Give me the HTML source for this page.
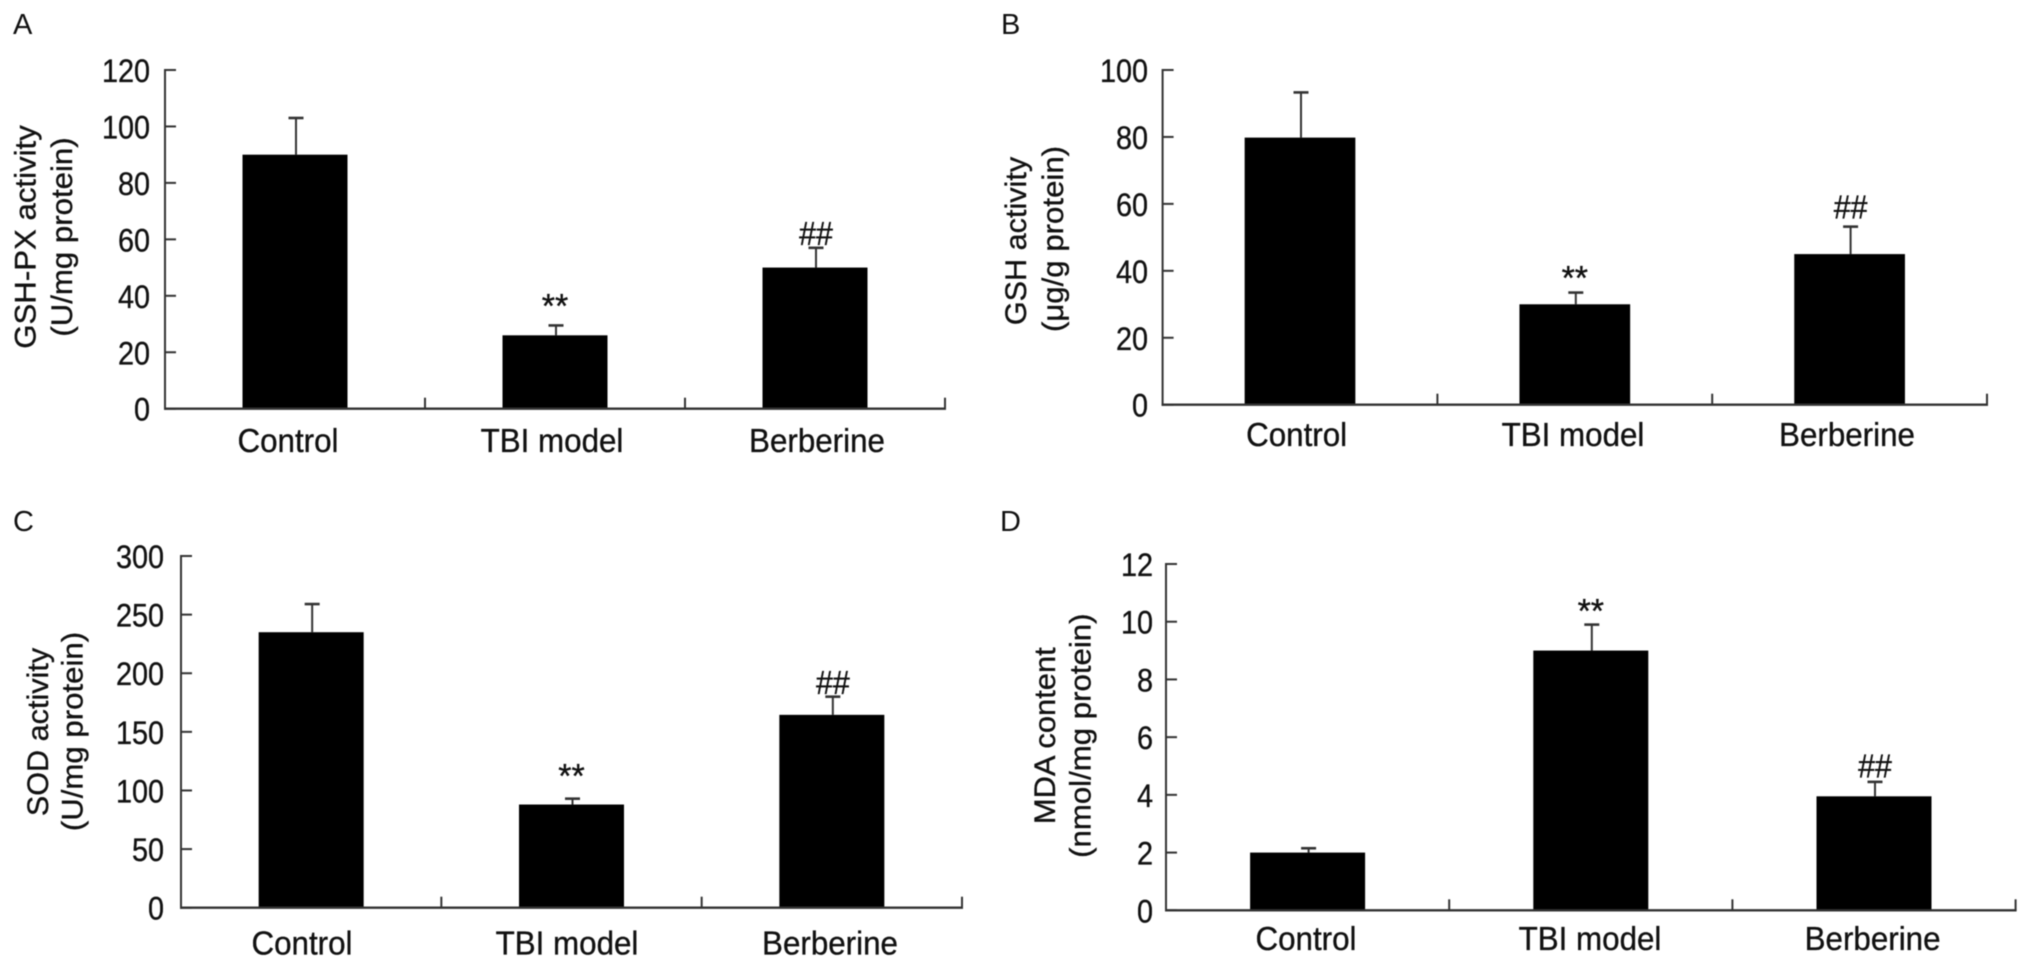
<!DOCTYPE html>
<html lang="en">
<head>
<meta charset="utf-8">
<title>Antioxidant markers by treatment group</title>
<style>
  html, body { margin: 0; padding: 0; background: #fff; }
  body { width: 2029px; height: 967px; overflow: hidden; }
  svg { display: block; filter: blur(0.5px); }
  text { font-family: "Liberation Sans", Arial, sans-serif; fill: #111; stroke: #111; stroke-width: 0.35px; }
  .letter { font-size: 29px; stroke-width: 0; }
  .title { font-size: 30px; text-anchor: middle; }
</style>
</head>
<body>
<svg id="figure" xmlns="http://www.w3.org/2000/svg" width="2029" height="967" viewBox="0 0 2029 967">
  <rect x="0" y="0" width="2029" height="967" fill="#fff"/>

  <text class="letter" x="13" y="34">A</text>
  <text class="letter" x="1001" y="34">B</text>
  <text class="letter" x="13" y="531">C</text>
  <text class="letter" x="1000" y="531">D</text>

  <text class="title" transform="translate(35.5,237) rotate(-90) scale(1.04,1)">GSH-PX activity</text>
  <text class="title" transform="translate(72,237) rotate(-90) scale(1.04,1)">(U/mg protein)</text>

  <text class="title" transform="translate(1026,241) rotate(-90) scale(1.02,1)">GSH activity</text>
  <text class="title" transform="translate(1063,239) rotate(-90) scale(1.04,1)">(μg/g protein)</text>

  <text class="title" transform="translate(48,732) rotate(-90) scale(1.02,1)">SOD activity</text>
  <text class="title" transform="translate(82.5,731.5) rotate(-90) scale(1.04,1)">(U/mg protein)</text>

  <text class="title" transform="translate(1055,735.7) rotate(-90) scale(1.03,1)">MDA content</text>
  <text class="title" transform="translate(1090.5,735.7) rotate(-90) scale(1.04,1)">(nmol/mg protein)</text>
</svg>

<script>
// ---- chart data ----
const categories = ['Control', 'TBI model', 'Berberine'];

const ticksA = [0, 20, 40, 60, 80, 100, 120];
const valuesA = [90, 26, 50];
const errorsA = [13, 3.5, 7];
const marksA = ['', '**', '##'];

const ticksB = [0, 20, 40, 60, 80, 100];
const valuesB = [79.8, 30, 45];
const errorsB = [13.5, 3.5, 8.2];
const marksB = ['', '**', '##'];

const ticksC = [0, 50, 100, 150, 200, 250, 300];
const valuesC = [235, 88, 164.5];
const errorsC = [24, 5, 15.5];
const marksC = ['', '**', '##'];

const ticksD = [0, 2, 4, 6, 8, 10, 12];
const valuesD = [2, 9, 3.95];
const errorsD = [0.15, 0.9, 0.5];
const marksD = ['', '**', '##'];

// ---- layout of each panel ----
const panels = [
  { id: 'a', ticks: ticksA, values: valuesA, errors: errorsA, marks: marksA,
    left: 165, right: 945, top: 70, bottom: 408.7, barW: 105, tickRight: 150,
    labelX: [288, 552, 817], labelY: 452, starGap: 8, hashGap: 3 },
  { id: 'b', ticks: ticksB, values: valuesB, errors: errorsB, marks: marksB,
    left: 1162.6, right: 1987, top: 70, bottom: 404.7, barW: 110.7, tickRight: 1148,
    labelX: [1296.6, 1573, 1847], labelY: 446, starGap: 3, hashGap: 8 },
  { id: 'c', ticks: ticksC, values: valuesC, errors: errorsC, marks: marksC,
    left: 181, right: 962, top: 556, bottom: 907.7, barW: 105, tickRight: 164,
    labelX: [302, 567, 830], labelY: 954.7, starGap: 11, hashGap: 2.5 },
  { id: 'd', ticks: ticksD, values: valuesD, errors: errorsD, marks: marksD,
    left: 1166, right: 2015.6, top: 564, bottom: 910.3, barW: 115, tickRight: 1153,
    labelX: [1306, 1590, 1872.6], labelY: 950, starGap: 2, hashGap: 4.5 }
];

const AXIS = '#333';
const NS = 'http://www.w3.org/2000/svg';
const svg = document.getElementById('figure');

function make(tag, attrs, parent) {
  const node = document.createElementNS(NS, tag);
  for (const k in attrs) node.setAttribute(k, attrs[k]);
  parent.appendChild(node);
  return node;
}

function line(x1, y1, x2, y2, width, parent) {
  return make('line', { x1: x1, y1: y1, x2: x2, y2: y2, stroke: AXIS, 'stroke-width': width }, parent);
}

panels.forEach(function (p) {
  const maxV = p.ticks[p.ticks.length - 1];
  const yScale = function (v) { return p.bottom - (v / maxV) * (p.bottom - p.top); };
  const band = (p.right - p.left) / categories.length;
  const xCenter = function (i) { return p.left + band * (i + 0.5); };

  const group = make('g', {}, svg);
  
  

  // bars and error bars
  p.values.forEach(function (v, i) {
    const cx = xCenter(i);
    const errTop = yScale(v + p.errors[i]);

    const stem = line(cx + 1, yScale(v), cx + 1, errTop, 2, group);
    
    

    const cap = line(cx + 1 - 7.5, errTop, cx + 1 + 7.5, errTop, 2.6, group);
    
    

    const bar = make('rect', {
      x: cx - p.barW / 2, y: yScale(v), width: p.barW, height: p.bottom - yScale(v), fill: '#000'
    }, group);
    
    

    const label = make('text', {
      transform: 'translate(' + p.labelX[i] + ',' + p.labelY + ') scale(0.95,1)',
      'font-size': 33, 'text-anchor': 'middle'
    }, group);
    label.textContent = categories[i];
    
    

    const sign = p.marks[i];
    if (sign) {
      const isStar = sign === '**';
      const gap = isStar ? p.starGap : p.hashGap;
      const mark = make('text', {
        transform: 'translate(' + (cx + (isStar ? 0 : 1)) + ',' + (errTop - gap) + ') scale(' + (isStar ? 1 : 0.92) + ',1)',
        'font-size': isStar ? 34 : 33, 'text-anchor': 'middle'
      }, group);
      mark.textContent = sign;
      
      
    }
  });

  // axes
  const yAxis = line(p.left, p.top - 1, p.left, p.bottom + 1, 2, group);
  
  

  const xAxis = line(p.left - 1, p.bottom, p.right + 1, p.bottom, 2.4, group);
  
  

  // y ticks point into the plot
  p.ticks.forEach(function (t) {
    const y = yScale(t);
    const tick = line(p.left, y, p.left + 11, y, 2, group);
    
    

    const tickLabel = make('text', {
      transform: 'translate(' + p.tickRight + ',' + (y + 12) + ') scale(0.9,1)',
      'font-size': 32, 'text-anchor': 'end'
    }, group);
    tickLabel.textContent = String(t);
    
    
  });

  // x ticks rise at the category boundaries
  categories.forEach(function (c, i) {
    const x = p.left + band * (i + 1);
    const tick = line(x, p.bottom, x, p.bottom - 11, 2, group);
    
    
  });
});
</script>
</body>
</html>
